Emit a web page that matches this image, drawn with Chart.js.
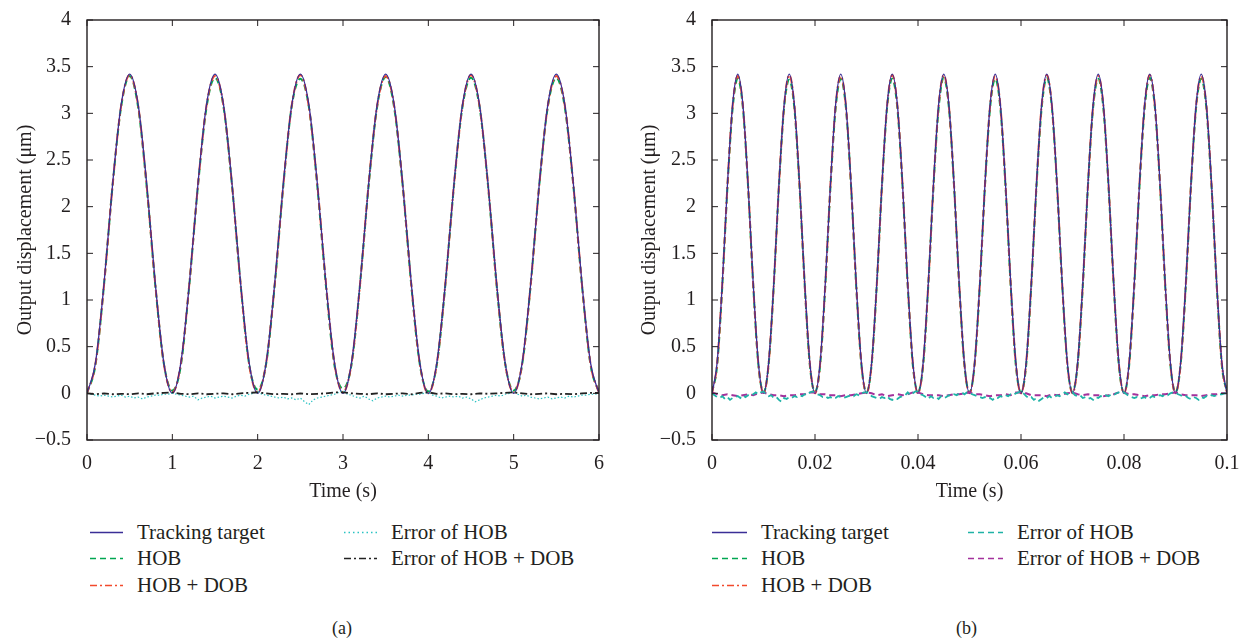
<!DOCTYPE html>
<html>
<head>
<meta charset="utf-8">
<script src="https://cdn.jsdelivr.net/npm/chart.js@4.4.1/dist/chart.umd.min.js"></script>
<style>
  body { margin: 0; background: #fff; width: 1246px; height: 644px; position: relative; overflow: hidden;
         font-family: "Liberation Serif", "DejaVu Serif", serif; color: #231f20; }
  .panel { position: absolute; top: 0; }
  .leg { position: absolute; font-size: 21px; line-height: 20px; white-space: nowrap; }
  .leg svg { position: absolute; top: 0; }
  .cap { position: absolute; font-size: 18px; top: 618px; }
</style>
</head>
<body>
<div class="panel" style="left:0;width:620px;height:504px"><canvas id="chartA"></canvas></div>
<div class="panel" style="left:624px;width:622px;height:504px"><canvas id="chartB"></canvas></div>
<div id="legendA"></div>
<div id="legendB"></div>
<div class="cap" style="left:332px">(a)</div>
<div class="cap" style="left:956px">(b)</div>
<script>
// --- Data for panel (a): 6 periods over 6 s ---
const timeA = [0,0.1,0.2,0.3,0.4,0.5,0.6,0.7,0.8,0.9,1,1.1,1.2,1.3,1.4,1.5,1.6,1.7,1.8,1.9,2,2.1,2.2,2.3,2.4,2.5,2.6,2.7,2.8,2.9,3,3.1,3.2,3.3,3.4,3.5,3.6,3.7,3.8,3.9,4,4.1,4.2,4.3,4.4,4.5,4.6,4.7,4.8,4.9,5,5.1,5.2,5.3,5.4,5.5,5.6,5.7,5.8,5.9,6];
const targetA = [0,0.33,1.18,2.24,3.09,3.42,3.09,2.24,1.18,0.33, 0,0.33,1.18,2.24,3.09,3.42,3.09,2.24,1.18,0.33, 0,0.33,1.18,2.24,3.09,3.42,3.09,2.24,1.18,0.33, 0,0.33,1.18,2.24,3.09,3.42,3.09,2.24,1.18,0.33, 0,0.33,1.18,2.24,3.09,3.42,3.09,2.24,1.18,0.33, 0,0.33,1.18,2.24,3.09,3.42,3.09,2.24,1.18,0.33, 0];
const hobA = [0,0.31,1.17,2.23,3.07,3.40,3.06,2.21,1.16,0.32, 0.03,0.30,1.17,2.22,3.06,3.38,3.07,2.22,1.17,0.31, 0.04,0.32,1.16,2.22,3.08,3.37,3.07,2.21,1.15,0.30, 0.05,0.31,1.17,2.22,3.07,3.39,3.06,2.22,1.16,0.31, 0.02,0.31,1.17,2.22,3.07,3.38,3.07,2.22,1.16,0.32, 0.03,0.31,1.17,2.23,3.07,3.38,3.06,2.22,1.16,0.31, 0.01];
const hobDobA = [0,0.32,1.17,2.23,3.08,3.41,3.08,2.22,1.17,0.32, 0.01,0.32,1.18,2.23,3.08,3.40,3.08,2.23,1.17,0.31, 0.01,0.33,1.17,2.23,3.09,3.41,3.07,2.23,1.18,0.32, 0.01,0.32,1.17,2.24,3.08,3.40,3.08,2.23,1.17,0.32, 0,0.32,1.18,2.23,3.08,3.41,3.08,2.23,1.17,0.32, 0.01,0.32,1.17,2.23,3.08,3.40,3.08,2.23,1.17,0.32, 0];
const errHobDobA = [0,-0.01,0,-0.01,-0.005,-0.01,0,-0.01,0,0.005, 0.01,-0.005,-0.01,0,-0.01,-0.005,0,-0.01,0,0.005, 0.01,0,-0.01,-0.005,-0.01,0,-0.01,-0.005,0,0.01, 0.01,0,-0.005,-0.01,0,-0.01,-0.005,0,-0.01,0.005, 0.01,-0.005,0,-0.01,-0.005,-0.01,0,-0.005,0,0.005, 0.01,0,-0.01,-0.005,0,-0.01,-0.005,-0.01,0,0.005, 0.005];
const errTimeA = [0,0.05,0.1,0.15,0.2,0.25,0.3,0.35,0.4,0.45,0.5,0.55,0.6,0.65,0.7,0.75,0.8,0.85,0.9,0.95,1,1.05,1.1,1.15,1.2,1.25,1.3,1.35,1.4,1.45,1.5,1.55,1.6,1.65,1.7,1.75,1.8,1.85,1.9,1.95,2,2.05,2.1,2.15,2.2,2.25,2.3,2.35,2.4,2.45,2.5,2.55,2.6,2.65,2.7,2.75,2.8,2.85,2.9,2.95,3,3.05,3.1,3.15,3.2,3.25,3.3,3.35,3.4,3.45,3.5,3.55,3.6,3.65,3.7,3.75,3.8,3.85,3.9,3.95,4,4.05,4.1,4.15,4.2,4.25,4.3,4.35,4.4,4.45,4.5,4.55,4.6,4.65,4.7,4.75,4.8,4.85,4.9,4.95,5,5.05,5.1,5.15,5.2,5.25,5.3,5.35,5.4,5.45,5.5,5.55,5.6,5.65,5.7,5.75,5.8,5.85,5.9,5.95,6];
const errHobA = [0,-0.01,-0.02,-0.03,-0.02,-0.03,-0.04,-0.03,-0.02,-0.04,-0.03,-0.05,-0.04,-0.06,-0.04,-0.03,-0.02,-0.02,-0.01,-0.01,
  0,-0.01,-0.02,-0.03,-0.04,-0.03,-0.07,-0.05,-0.04,-0.03,-0.05,-0.04,-0.03,-0.04,-0.05,-0.03,-0.02,-0.03,-0.01,0,
  0.02,-0.01,-0.02,-0.03,-0.04,-0.05,-0.04,-0.06,-0.05,-0.07,-0.05,-0.09,-0.12,-0.07,-0.05,-0.04,-0.03,-0.02,-0.01,0.01,
  0.03,-0.01,-0.02,-0.04,-0.05,-0.03,-0.06,-0.08,-0.05,-0.04,-0.03,-0.04,-0.03,-0.02,-0.03,-0.02,-0.02,-0.01,-0.01,0,
  0.01,-0.02,-0.03,-0.05,-0.04,-0.03,-0.04,-0.03,-0.05,-0.04,-0.06,-0.09,-0.07,-0.05,-0.04,-0.03,-0.02,-0.03,-0.01,0,
  0.02,-0.01,-0.03,-0.02,-0.04,-0.05,-0.06,-0.05,-0.04,-0.06,-0.05,-0.04,-0.05,-0.03,-0.04,-0.03,-0.02,-0.02,-0.01,-0.01,
  0];

// --- Data for panel (b): 10 periods over 0.1 s ---
const timeB = [0,0.001,0.002,0.003,0.004,0.005,0.006,0.007,0.008,0.009,0.01,0.011,0.012,0.013,0.014,0.015,0.016,0.017,0.018,0.019,0.02,0.021,0.022,0.023,0.024,0.025,0.026,0.027,0.028,0.029,0.03,0.031,0.032,0.033,0.034,0.035,0.036,0.037,0.038,0.039,0.04,0.041,0.042,0.043,0.044,0.045,0.046,0.047,0.048,0.049,0.05,0.051,0.052,0.053,0.054,0.055,0.056,0.057,0.058,0.059,0.06,0.061,0.062,0.063,0.064,0.065,0.066,0.067,0.068,0.069,0.07,0.071,0.072,0.073,0.074,0.075,0.076,0.077,0.078,0.079,0.08,0.081,0.082,0.083,0.084,0.085,0.086,0.087,0.088,0.089,0.09,0.091,0.092,0.093,0.094,0.095,0.096,0.097,0.098,0.099,0.1];
const targetB = [0,0.33,1.18,2.24,3.09,3.42,3.09,2.24,1.18,0.33, 0,0.33,1.18,2.24,3.09,3.42,3.09,2.24,1.18,0.33, 0,0.33,1.18,2.24,3.09,3.42,3.09,2.24,1.18,0.33, 0,0.33,1.18,2.24,3.09,3.42,3.09,2.24,1.18,0.33, 0,0.33,1.18,2.24,3.09,3.42,3.09,2.24,1.18,0.33, 0,0.33,1.18,2.24,3.09,3.42,3.09,2.24,1.18,0.33, 0,0.33,1.18,2.24,3.09,3.42,3.09,2.24,1.18,0.33, 0,0.33,1.18,2.24,3.09,3.42,3.09,2.24,1.18,0.33, 0,0.33,1.18,2.24,3.09,3.42,3.09,2.24,1.18,0.33, 0,0.33,1.18,2.24,3.09,3.42,3.09,2.24,1.18,0.33, 0];
const hobB = [0.01,0.30,1.15,2.21,3.05,3.37,3.06,2.22,1.16,0.31, 0.01,0.31,1.16,2.22,3.06,3.36,3.05,2.21,1.16,0.30, 0.02,0.30,1.15,2.21,3.05,3.37,3.06,2.22,1.15,0.31, 0.01,0.31,1.16,2.22,3.06,3.37,3.05,2.21,1.16,0.30, 0.02,0.30,1.16,2.21,3.05,3.38,3.06,2.22,1.16,0.31, 0.01,0.31,1.15,2.22,3.06,3.37,3.05,2.21,1.15,0.30, 0.01,0.30,1.16,2.21,3.05,3.38,3.06,2.22,1.16,0.31, 0.02,0.31,1.15,2.22,3.06,3.37,3.05,2.21,1.16,0.30, 0.01,0.30,1.16,2.21,3.05,3.38,3.06,2.22,1.15,0.31, 0.01,0.31,1.15,2.22,3.06,3.37,3.05,2.21,1.16,0.30, 0.01];
const hobDobB = [0,0.32,1.17,2.23,3.08,3.40,3.08,2.23,1.17,0.32, 0,0.32,1.17,2.23,3.08,3.41,3.08,2.23,1.17,0.32, 0,0.32,1.17,2.23,3.08,3.40,3.08,2.23,1.17,0.32, 0,0.32,1.17,2.23,3.08,3.41,3.08,2.23,1.17,0.32, 0,0.32,1.17,2.23,3.08,3.41,3.08,2.23,1.17,0.32, 0,0.32,1.17,2.23,3.08,3.40,3.08,2.23,1.17,0.32, 0,0.32,1.17,2.23,3.08,3.41,3.08,2.23,1.17,0.32, 0,0.32,1.17,2.23,3.08,3.40,3.08,2.23,1.17,0.32, 0,0.32,1.17,2.23,3.08,3.41,3.08,2.23,1.17,0.32, 0,0.32,1.17,2.23,3.08,3.40,3.08,2.23,1.17,0.32, 0];
const errHobDobB = [0.01,-0.01,-0.02,-0.01,-0.02,-0.03,-0.02,-0.01,-0.02,0, 0.01,-0.01,-0.02,-0.02,-0.03,-0.02,-0.02,-0.01,-0.01,0.01, 0.01,-0.01,-0.01,-0.02,-0.02,-0.03,-0.02,-0.02,-0.01,0, 0.01,0,-0.02,-0.01,-0.03,-0.02,-0.01,-0.02,-0.01,0.01, 0.01,-0.01,-0.02,-0.02,-0.02,-0.03,-0.02,-0.01,-0.01,0, 0.01,-0.01,-0.01,-0.02,-0.03,-0.02,-0.02,-0.01,-0.02,0.01, 0.01,0,-0.02,-0.02,-0.02,-0.03,-0.01,-0.02,-0.01,0, 0.01,-0.01,-0.02,-0.01,-0.02,-0.02,-0.03,-0.02,-0.01,0.01, 0.01,-0.01,-0.01,-0.02,-0.03,-0.02,-0.02,-0.01,-0.01,0, 0.01,-0.01,-0.02,-0.02,-0.02,-0.03,-0.02,-0.01,-0.01,0, 0];
const errTimeB = [0,0.0005,0.001,0.0015,0.002,0.0025,0.003,0.0035,0.004,0.0045,0.005,0.0055,0.006,0.0065,0.007,0.0075,0.008,0.0085,0.009,0.0095,
  0.01,0.0105,0.011,0.0115,0.012,0.0125,0.013,0.0135,0.014,0.0145,0.015,0.0155,0.016,0.0165,0.017,0.0175,0.018,0.0185,0.019,0.0195,
  0.02,0.0205,0.021,0.0215,0.022,0.0225,0.023,0.0235,0.024,0.0245,0.025,0.0255,0.026,0.0265,0.027,0.0275,0.028,0.0285,0.029,0.0295,
  0.03,0.0305,0.031,0.0315,0.032,0.0325,0.033,0.0335,0.034,0.0345,0.035,0.0355,0.036,0.0365,0.037,0.0375,0.038,0.0385,0.039,0.0395,
  0.04,0.0405,0.041,0.0415,0.042,0.0425,0.043,0.0435,0.044,0.0445,0.045,0.0455,0.046,0.0465,0.047,0.0475,0.048,0.0485,0.049,0.0495,
  0.05,0.0505,0.051,0.0515,0.052,0.0525,0.053,0.0535,0.054,0.0545,0.055,0.0555,0.056,0.0565,0.057,0.0575,0.058,0.0585,0.059,0.0595,
  0.06,0.0605,0.061,0.0615,0.062,0.0625,0.063,0.0635,0.064,0.0645,0.065,0.0655,0.066,0.0665,0.067,0.0675,0.068,0.0685,0.069,0.0695,
  0.07,0.0705,0.071,0.0715,0.072,0.0725,0.073,0.0735,0.074,0.0745,0.075,0.0755,0.076,0.0765,0.077,0.0775,0.078,0.0785,0.079,0.0795,
  0.08,0.0805,0.081,0.0815,0.082,0.0825,0.083,0.0835,0.084,0.0845,0.085,0.0855,0.086,0.0865,0.087,0.0875,0.088,0.0885,0.089,0.0895,
  0.09,0.0905,0.091,0.0915,0.092,0.0925,0.093,0.0935,0.094,0.0945,0.095,0.0955,0.096,0.0965,0.097,0.0975,0.098,0.0985,0.099,0.0995,
  0.1];
const errHobB = [0,-0.02,-0.04,-0.05,-0.03,-0.06,-0.04,-0.07,-0.05,-0.04,-0.03,-0.05,-0.02,-0.04,-0.02,-0.03,-0.01,0.01,-0.01,0.01,
  0.02,-0.01,-0.03,-0.02,-0.05,-0.04,-0.07,-0.09,-0.05,-0.06,-0.04,-0.05,-0.03,-0.04,-0.02,-0.03,-0.01,-0.02,0.01,0.02,
  0.01,-0.01,-0.02,-0.04,-0.03,-0.05,-0.04,-0.06,-0.05,-0.03,-0.04,-0.05,-0.04,-0.03,-0.02,-0.03,-0.01,-0.02,0,0.01,
  0.01,0,-0.03,-0.04,-0.05,-0.06,-0.04,-0.05,-0.03,-0.06,-0.07,-0.05,-0.06,-0.04,-0.03,-0.02,0.01,-0.02,0,0.02,
  0.02,-0.01,-0.02,-0.04,-0.06,-0.03,-0.05,-0.04,-0.06,-0.03,-0.05,-0.04,-0.02,-0.03,-0.01,-0.02,0,0.01,-0.01,0.01,
  0.01,-0.01,-0.02,-0.03,-0.04,-0.05,-0.04,-0.06,-0.05,-0.07,-0.04,-0.05,-0.03,-0.04,-0.02,-0.03,-0.01,-0.02,0,0.01,
  0.02,0,-0.03,-0.05,-0.04,-0.07,-0.05,-0.08,-0.06,-0.04,-0.05,-0.03,-0.05,-0.04,-0.02,-0.03,-0.01,0.01,-0.01,0.01,
  0.01,-0.02,-0.03,-0.02,-0.05,-0.04,-0.06,-0.05,-0.07,-0.04,-0.05,-0.03,-0.04,-0.02,-0.03,-0.01,-0.02,0,0.01,0.02,
  0.01,-0.01,-0.03,-0.04,-0.05,-0.04,-0.06,-0.05,-0.04,-0.06,-0.05,-0.03,-0.04,-0.03,-0.02,-0.03,-0.01,-0.02,0,0.01,
  0.01,-0.01,-0.02,-0.04,-0.03,-0.05,-0.06,-0.04,-0.05,-0.07,-0.04,-0.05,-0.03,-0.04,-0.02,-0.03,-0.02,-0.01,-0.01,0,
  0];

const yTicks = [-0.5, 0, 0.5, 1, 1.5, 2, 2.5, 3, 3.5, 4];
const yTitle = 'Output displacement (\u03bcm)';
const xTitle = 'Time (s)';

const FONT = '"Liberation Serif", "DejaVu Serif", serif';
const INK = '#231f20';
const COLORS = { target: '#3a2e96', hob: '#00a651', hobDob: '#f24a2c', errHobA: '#2bc3c3', errHobDobA: '#222222', errHobB: '#1fb2a6', errHobDobB: '#a3319c' };

const pairs = (xs, ys) => xs.map((x, i) => ({ x: x, y: ys[i] }));

// frame + inward ticks, MATLAB style
const boxPlugin = {
    id: 'box',
    afterDraw(chart) {
        const { ctx, chartArea: a, scales } = chart;
        ctx.save();
        ctx.strokeStyle = INK;
        ctx.lineWidth = 1.4;
        ctx.strokeRect(a.left, a.top, a.right - a.left, a.bottom - a.top);
        ctx.lineWidth = 1;
        ctx.beginPath();
        scales.x.ticks.forEach(t => {
            const px = scales.x.getPixelForValue(t.value);
            ctx.moveTo(px, a.bottom); ctx.lineTo(px, a.bottom - 6);
            ctx.moveTo(px, a.top); ctx.lineTo(px, a.top + 6);
        });
        scales.y.ticks.forEach(t => {
            const py = scales.y.getPixelForValue(t.value);
            ctx.moveTo(a.left, py); ctx.lineTo(a.left + 6, py);
            ctx.moveTo(a.right, py); ctx.lineTo(a.right - 6, py);
        });
        ctx.stroke();
        ctx.restore();
    }
};

const lineSet = (label, data, color, dash, width, smooth) => ({
    label: label,
    data: data,
    borderColor: color,
    borderWidth: width,
    borderDash: dash,
    pointRadius: 0,
    fill: false,
    cubicInterpolationMode: smooth ? 'monotone' : 'default',
    tension: 0
});

const makeOptions = (xMax, xStep, xFmt, yWidth, padRight) => ({
    responsive: true,
    maintainAspectRatio: false,
    animation: false,
    layout: { padding: { top: 14, right: padRight, bottom: 0, left: 10 } },
    plugins: { legend: { display: false }, tooltip: { enabled: false } },
    scales: {
        x: {
            type: 'linear', min: 0, max: xMax,
            grid: { display: false }, border: { display: false },
            ticks: { stepSize: xStep, color: INK, font: { family: FONT, size: 20 }, padding: 4, callback: xFmt, maxRotation: 0 },
            title: { display: true, text: xTitle, color: INK, font: { family: FONT, size: 20 }, padding: { top: 4, bottom: 0 } },
            afterFit: s => { s.height = 64; }
        },
        y: {
            type: 'linear', min: -0.5, max: 4,
            grid: { display: false }, border: { display: false },
            afterBuildTicks: s => { s.ticks = yTicks.map(v => ({ value: v })); },
            ticks: { color: INK, font: { family: FONT, size: 20 }, padding: 8,
                     callback: v => v < 0 ? '\u2212' + Math.abs(v) : String(v) },
            title: { display: true, text: yTitle, color: INK, font: { family: FONT, size: 20 } },
            afterFit: s => { s.width = yWidth; }
        }
    }
});

const createChartA = () => {
    const ctx = document.querySelector('#chartA').getContext('2d');
    new Chart(ctx, {
        type: 'line',
        data: {
            datasets: [
                lineSet('Error of HOB + DOB', pairs(timeA, errHobDobA), COLORS.errHobDobA, [7, 3, 2, 3], 1.8, false),
                lineSet('Error of HOB', pairs(errTimeA, errHobA), COLORS.errHobA, [1.5, 2], 1.2, false),
                lineSet('Tracking target', pairs(timeA, targetA), COLORS.target, [], 1.3, true),
                lineSet('HOB + DOB', pairs(timeA, hobDobA), COLORS.hobDob, [7, 3, 2, 3], 2, true),
                lineSet('HOB', pairs(timeA, hobA), COLORS.hob, [6, 4], 2, true)
            ]
        },
        options: makeOptions(6, 1, v => String(v), 77, 21),
        plugins: [boxPlugin]
    });
};

const createChartB = () => {
    const ctx = document.querySelector('#chartB').getContext('2d');
    new Chart(ctx, {
        type: 'line',
        data: {
            datasets: [
                lineSet('Error of HOB', pairs(errTimeB, errHobB), COLORS.errHobB, [6, 4], 1.8, false),
                lineSet('Error of HOB + DOB', pairs(timeB, errHobDobB), COLORS.errHobDobB, [6, 4], 2, false),
                lineSet('Tracking target', pairs(timeB, targetB), COLORS.target, [], 1.3, true),
                lineSet('HOB + DOB', pairs(timeB, hobDobB), COLORS.hobDob, [7, 3, 2, 3], 2, true),
                lineSet('HOB', pairs(timeB, hobB), COLORS.hob, [6, 4], 2, true)
            ]
        },
        options: makeOptions(0.1, 0.02, v => String(Math.round(v * 100) / 100), 78, 19),
        plugins: [boxPlugin]
    });
};

// --- legends (HTML, two columns under each plot) ---
const legendItems = (leftX, col2X, sampleW, textGap, errHobStyle, errHobDobStyle) => [
    { x: leftX, y: 522, text: 'Tracking target', color: COLORS.target, dash: '' },
    { x: leftX, y: 548, text: 'HOB', color: COLORS.hob, dash: '6 4' },
    { x: leftX, y: 575, text: 'HOB + DOB', color: COLORS.hobDob, dash: '7 3 2 3' },
    { x: col2X, y: 522, text: 'Error of HOB', color: errHobStyle.color, dash: errHobStyle.dash },
    { x: col2X, y: 548, text: 'Error of HOB + DOB', color: errHobDobStyle.color, dash: errHobDobStyle.dash }
].map(it => Object.assign(it, { w: sampleW, gap: textGap }));

const drawLegend = (id, items) => {
    const box = document.getElementById(id);
    items.forEach(it => {
        const d = document.createElement('div');
        d.className = 'leg';
        d.style.left = it.x + 'px';
        d.style.top = it.y + 'px';
        d.innerHTML = '<svg width="' + it.w + '" height="20"><line x1="0" y1="10.5" x2="' + it.w + '" y2="10.5" stroke="' + it.color +
            '" stroke-width="1.6" stroke-dasharray="' + it.dash + '"/></svg><span style="padding-left:' + (it.w + it.gap) + 'px">' + it.text + '</span>';
        box.appendChild(d);
    });
};

createChartA();
createChartB();
drawLegend('legendA', legendItems(90, 344, 33, 14, { color: COLORS.errHobA, dash: '1.5 3' }, { color: '#222', dash: '7 3 2 3' }));
drawLegend('legendB', legendItems(712, 968, 35, 14, { color: COLORS.errHobB, dash: '6 4' }, { color: COLORS.errHobDobB, dash: '6 4' }));
</script>
</body>
</html>
